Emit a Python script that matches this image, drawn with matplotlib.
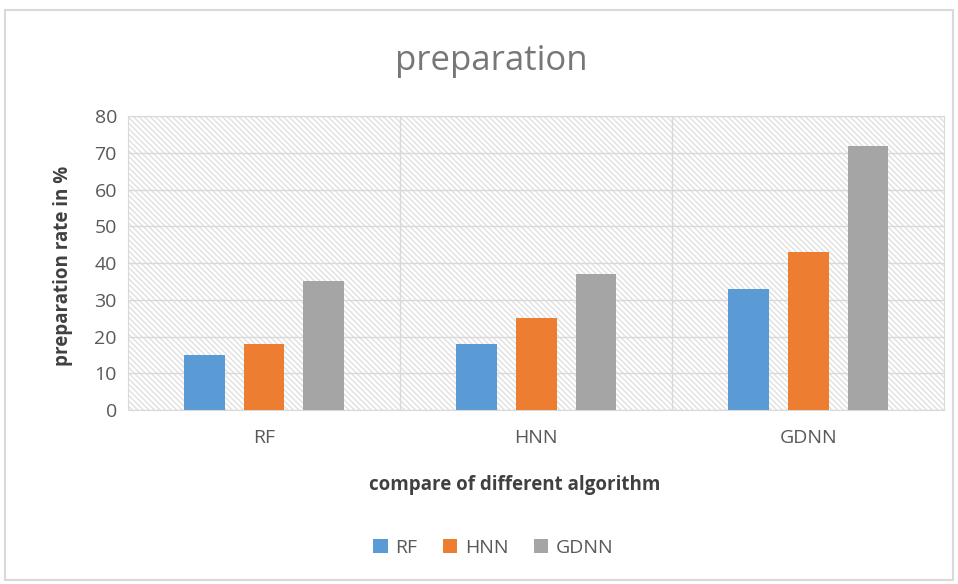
import numpy as np
import matplotlib
matplotlib.use('Agg')
import matplotlib.pyplot as plt
from matplotlib.patches import Rectangle

plt.rcParams['font.family'] = ['Open Sans', 'DejaVu Sans']
plt.rcParams['hatch.color'] = '#e0e0e0'
plt.rcParams['hatch.linewidth'] = 1.0

categories = ['RF', 'HNN', 'GDNN']
series_names = ['RF', 'HNN', 'GDNN']
rf_vals = [15, 18, 33]
hnn_vals = [18, 25, 43]
gdnn_vals = [35, 37, 72]
colors = ['#5b9bd5', '#ed7d31', '#a5a5a5']

fig = plt.figure(figsize=(9.58, 5.84), dpi=100)
fig.patches.append(Rectangle((0.005, 0.006), 0.99, 0.977, transform=fig.transFigure,
                             fill=False, edgecolor='#d9d9d9', linewidth=1.5))
ax = fig.add_axes([0.1336, 0.298, 0.852, 0.503])

# hatched background
ax.add_patch(Rectangle((0, 0), 1, 1, transform=ax.transAxes, facecolor='white',
                       hatch='\\\\\\\\\\\\', edgecolor='#e0e0e0', linewidth=0, zorder=0))

x = np.arange(len(categories))
w = 0.15
off = 0.22
for i, (vals, name) in enumerate(zip([rf_vals, hnn_vals, gdnn_vals], series_names)):
    ax.bar(x + (i - 1) * off, vals, w, color=colors[i], label=name, zorder=3)

ax.set_xlim(-0.5, 2.5)
ax.set_ylim(0, 80)
ax.set_yticks(range(0, 81, 10))
ax.set_xticks(x)
ax.set_xticklabels(categories)
ax.set_xticks([0.5, 1.5], minor=True)
ax.grid(axis='y', color='#d9d9d9', linewidth=1, zorder=1)
ax.grid(axis='x', which='minor', color='#d9d9d9', linewidth=1, zorder=1)
ax.grid(axis='x', which='major', visible=False)
for s in ax.spines.values():
    s.set_color('#d9d9d9')
ax.tick_params(axis='both', which='both', length=0, colors='#595959', labelsize=14)
ax.tick_params(axis='x', pad=14)
ax.tick_params(axis='y', pad=8)

fig.text(0.513, 0.895, 'preparation', fontsize=25, color='#777777', ha='center', va='center')
fig.text(0.537, 0.17, 'compare of different algorithm', fontsize=13.5, fontweight='bold',
         color='#404040', ha='center', va='center')
fig.text(0.066, 0.545, 'preparation rate in %', fontsize=13.5, fontweight='bold',
         color='#404040', ha='center', va='center', rotation=90)

fig.legend(loc='center', bbox_to_anchor=(0.515, 0.062), ncol=3, frameon=False,
           fontsize=14, handlelength=0.75, handleheight=0.75, columnspacing=1.3,
           handletextpad=0.4, labelcolor='#595959')

fig.savefig('out.png', dpi=100)
